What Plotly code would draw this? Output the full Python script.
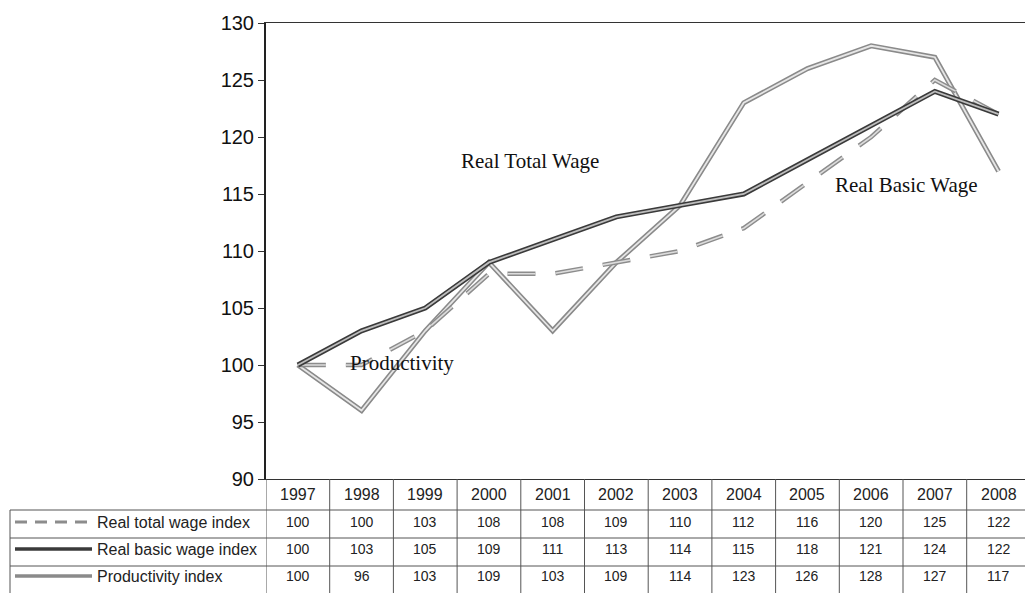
import plotly.graph_objects as go

years = [1997, 1998, 1999, 2000, 2001, 2002, 2003, 2004, 2005, 2006, 2007, 2008]
real_total_wage = [100, 100, 103, 108, 108, 109, 110, 112, 116, 120, 125, 122]
real_basic_wage = [100, 103, 105, 109, 111, 113, 114, 115, 118, 121, 124, 122]
productivity = [100, 96, 103, 109, 103, 109, 114, 123, 126, 128, 127, 117]
row_labels = ["Real total wage index", "Real basic wage index", "Productivity index"]
y_ticks = [90, 95, 100, 105, 110, 115, 120, 125, 130]

W, H = 1025, 593
L, R, T, B = 266, 0, 23, 114
plot_h = H - T - B
plot_w = W - L - R


def py(p):  # pixel y -> paper y
    return (H - B - p) / plot_h


def px(p):  # pixel x -> paper x
    return (p - L) / plot_w


fig = go.Figure()

# Productivity: grey hollow double line
fig.add_trace(go.Scatter(x=years, y=productivity, mode="lines",
                         line=dict(color="#8a8a8a", width=5), showlegend=False))
fig.add_trace(go.Scatter(x=years, y=productivity, mode="lines",
                         line=dict(color="#e6e6e6", width=1.8), showlegend=False))
# Real total wage: dashed grey
fig.add_trace(go.Scatter(x=years, y=real_total_wage, mode="lines",
                         line=dict(color="#8c8c8c", width=4.5, dash="28px,20px"), showlegend=False))
fig.add_trace(go.Scatter(x=years, y=real_total_wage, mode="lines",
                         line=dict(color="#dcdcdc", width=1.6, dash="28px,20px"), showlegend=False))
# Real basic wage: dark hollow double line
fig.add_trace(go.Scatter(x=years, y=real_basic_wage, mode="lines",
                         line=dict(color="#3a3a3a", width=5), showlegend=False))
fig.add_trace(go.Scatter(x=years, y=real_basic_wage, mode="lines",
                         line=dict(color="#bdbdbd", width=1.8), showlegend=False))

serif = dict(family="Liberation Serif, Times New Roman, serif", size=21, color="#111")
fig.add_annotation(x=2000.64, y=117.9, text="Real Total Wage", showarrow=False, font=serif)
fig.add_annotation(x=2006.55, y=115.8, text="Real Basic Wage", showarrow=False, font=serif)
fig.add_annotation(x=1998.64, y=100.2, text="Productivity", showarrow=False, font=serif)

sans = "Liberation Sans, Arial, sans-serif"
grid = dict(color="#555", width=1)
shapes = []

# Header row: years
for yr in years:
    fig.add_annotation(x=yr, y=py(494), xref="x", yref="paper", text=str(yr),
                       yanchor="middle", showarrow=False,
                       font=dict(family=sans, size=16, color="#222"))

# Table rows
row_tops = [510, 538, 566]
row_text_y = [522, 549, 576]
series = [real_total_wage, real_basic_wage, productivity]
for label, vals, ty, top in zip(row_labels, series, row_text_y, row_tops):
    fig.add_annotation(x=px(95), y=py(ty), xref="paper", yref="paper", text=label,
                       xanchor="left", yanchor="middle", showarrow=False,
                       font=dict(family=sans, size=16, color="#222"))
    for yr, v in zip(years, vals):
        fig.add_annotation(x=yr, y=py(ty), xref="x", yref="paper", text=str(v),
                           yanchor="middle", showarrow=False,
                           font=dict(family=sans, size=14, color="#222"))
    shapes.append(dict(type="line", xref="paper", yref="paper", x0=px(10), x1=1,
                       y0=py(top), y1=py(top), line=grid))

# Legend keys in row labels
key_y = [py(t) for t in row_text_y]
shapes.append(dict(type="line", xref="paper", yref="paper", x0=px(15), x1=px(92),
                   y0=key_y[0], y1=key_y[0], line=dict(color="#8c8c8c", width=3, dash="12px,8px")))
shapes.append(dict(type="line", xref="paper", yref="paper", x0=px(15), x1=px(92),
                   y0=key_y[1], y1=key_y[1], line=dict(color="#3a3a3a", width=3.5)))
shapes.append(dict(type="line", xref="paper", yref="paper", x0=px(15), x1=px(92),
                   y0=key_y[2], y1=key_y[2], line=dict(color="#8a8a8a", width=3.5)))

# Column boundaries
for yr in years:
    shapes.append(dict(type="line", xref="x", yref="paper", x0=yr - 0.5, x1=yr - 0.5,
                       y0=0, y1=py(H), line=grid))
# Left edge of the row-label column
shapes.append(dict(type="line", xref="paper", yref="paper", x0=px(10), x1=px(10),
                   y0=py(510), y1=py(H), line=grid))

fig.update_layout(
    width=W, height=H,
    margin=dict(l=L, r=R, t=T, b=B, pad=0),
    paper_bgcolor="white", plot_bgcolor="white",
    shapes=shapes,
    xaxis=dict(range=[1996.5, 1996.5 + plot_w / 63.7], showgrid=False, zeroline=False,
               showticklabels=False, ticks="", showline=True, mirror=True,
               linecolor="#333", linewidth=1),
    yaxis=dict(range=[90, 130], tickvals=y_ticks, showgrid=False, zeroline=False,
               ticks="outside", ticklen=6, tickcolor="#333", showline=True,
               linecolor="#222", linewidth=2,
               tickfont=dict(family=sans, size=20, color="#111")),
)

fig.write_html("out.html", config={"displayModeBar": False},
               post_script="document.body.style.margin='0';document.body.style.overflow='hidden';")
